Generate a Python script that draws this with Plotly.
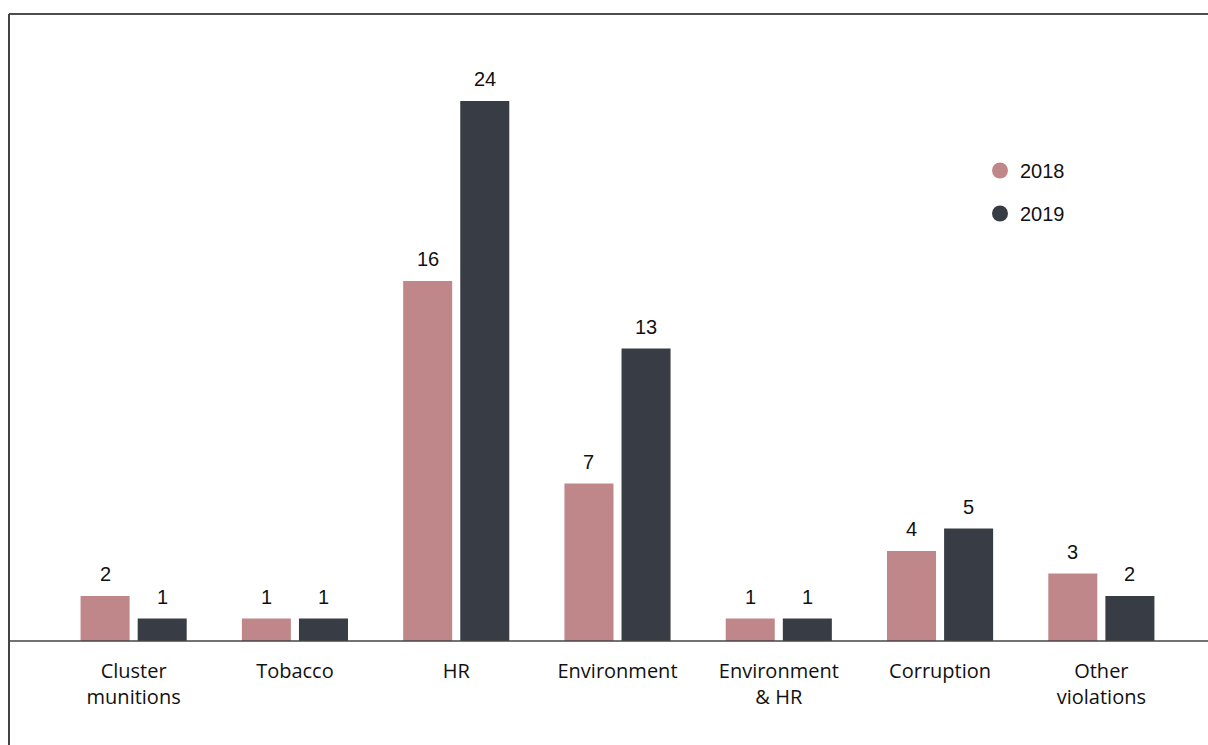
import plotly.graph_objects as go

categories = ["Cluster<br>munitions", "Tobacco", "HR", "Environment",
              "Environment<br>& HR", "Corruption", "Other<br>violations"]
values_2018 = [2, 1, 16, 7, 1, 4, 3]
values_2019 = [1, 1, 24, 13, 1, 5, 2]
series_names = ["2018", "2019"]

COL_2018 = "#C0878B"
COL_2019 = "#383C44"
BAR_W = 0.304
OFFSETS = [-0.329, 0.025]

W, H = 1208, 745
L, R, T, B = 53, W - 1182, 14, 104
plot_w = W - L - R

fig = go.Figure()
for name, vals, col, off in zip(series_names, [values_2018, values_2019],
                                [COL_2018, COL_2019], OFFSETS):
    fig.add_trace(go.Bar(x=categories, y=vals, name=name, marker_color=col,
                         marker_line_width=0, width=BAR_W, offset=off,
                         showlegend=False, hoverinfo="skip"))
    # legend proxy with circle marker
    fig.add_trace(go.Scatter(x=[None], y=[None], mode="markers", name=name,
                             marker=dict(symbol="circle", size=20, color=col),
                             legendgroup=name, showlegend=True))
    for i, v in enumerate(vals):
        fig.add_annotation(x=i + off + BAR_W / 2, y=v, text=str(v),
                           showarrow=False, yanchor="bottom", yshift=9,
                           font=dict(family="Liberation Sans, Arial", size=20, color="#111"))

px2paper = lambda px: (px - L) / plot_w
# outer frame lines
fig.add_shape(type="line", xref="paper", yref="paper", x0=px2paper(9), x1=px2paper(W + 2),
              y0=1, y1=1, line=dict(color="#111", width=1.5))
fig.add_shape(type="line", xref="paper", yref="paper", x0=px2paper(9), x1=px2paper(9),
              y0=1, y1=-(B + 5) / (H - T - B), line=dict(color="#444", width=2))
fig.add_shape(type="line", xref="paper", yref="paper", x0=px2paper(9), x1=px2paper(W + 2),
              y0=0, y1=0, line=dict(color="#444", width=1.5))

fig.update_layout(
    width=W, height=H,
    margin=dict(l=L, r=R, t=T, b=B, pad=0),
    paper_bgcolor="white", plot_bgcolor="white",
    barmode="overlay",
    font=dict(family="Open Sans, Noto Sans, sans-serif", color="#111"),
    legend=dict(x=px2paper(980), y=1 - (151 - T) / (H - T - B), xanchor="left", yanchor="top",
                font=dict(family="Liberation Sans, Arial", size=20, color="#111"),
                tracegroupgap=14, bgcolor="rgba(0,0,0,0)"),
    xaxis=dict(type="category", range=[-0.5, 6.5], showline=False, showgrid=False,
               zeroline=False, ticks="", ticklabelstandoff=16,
               tickfont=dict(family="Open Sans, sans-serif", size=20, color="#111")),
    yaxis=dict(range=[0, (641 - T) / 22.5], visible=False, showgrid=False, zeroline=False),
)

fig.write_html("out.html")
